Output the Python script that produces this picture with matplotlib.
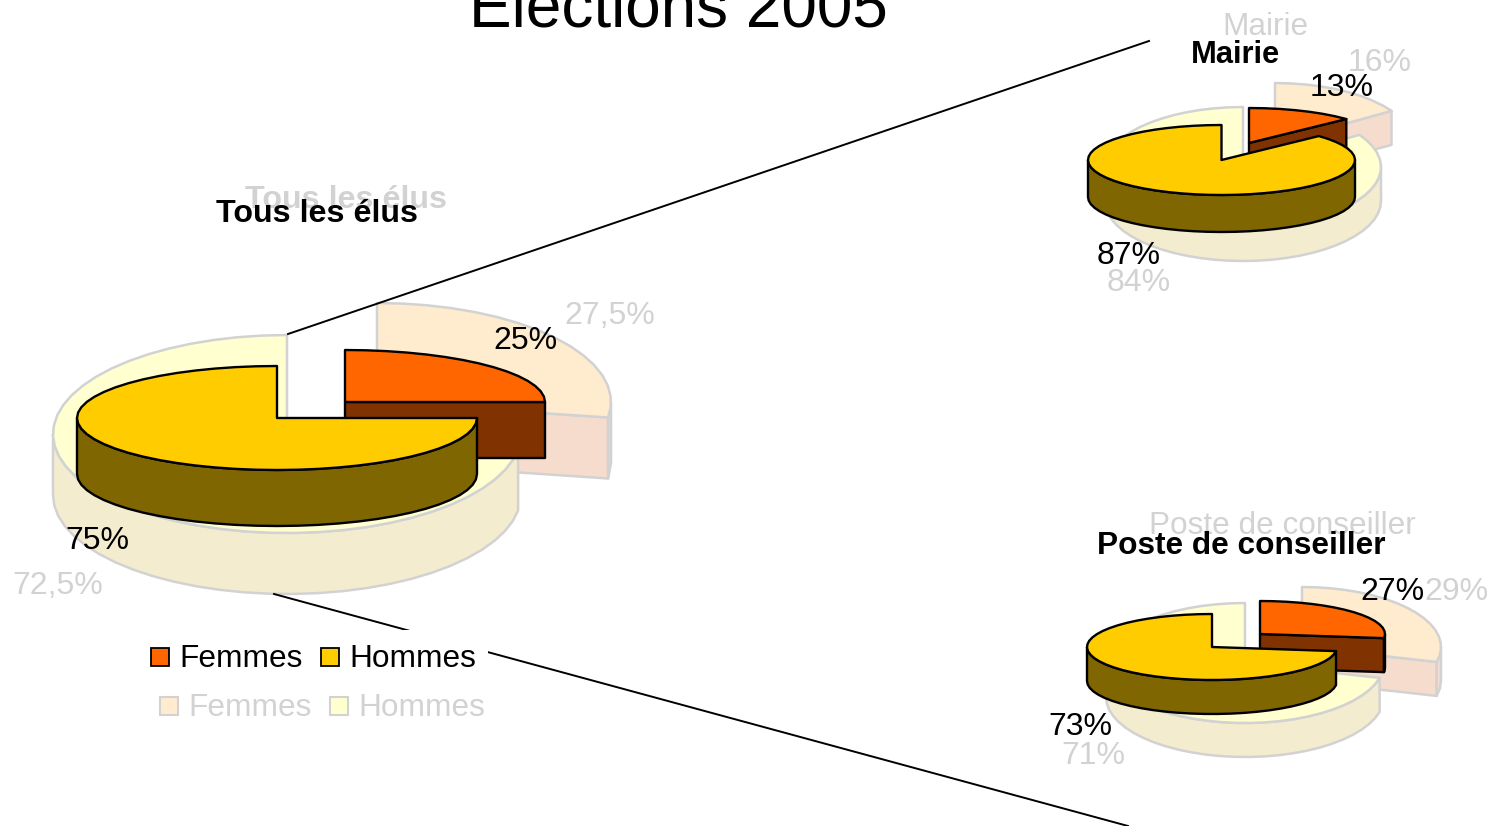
import matplotlib
matplotlib.use("Agg")
import matplotlib.pyplot as plt
import numpy as np
from matplotlib.patches import Polygon, Rectangle

plt.rcParams['font.family'] = ['Liberation Sans', 'DejaVu Sans']

series_names = ["Femmes", "Hommes"]

# values (percent)
tous_front = [25, 75]
tous_back = [27.5, 72.5]
mairie_front = [13, 87]
mairie_back = [16, 84]
poste_front = [27, 73]
poste_back = [29, 71]

tous_front_labels = ["25%", "75%"]
tous_back_labels = ["27,5%", "72,5%"]
mairie_front_labels = ["13%", "87%"]
mairie_back_labels = ["16%", "84%"]
poste_front_labels = ["27%", "73%"]
poste_back_labels = ["29%", "71%"]

title = "Élections 2005"
pie_titles = ["Tous les élus", "Mairie", "Poste de conseiller"]

front_colors = [("#FF6600", "#803300"), ("#FFCC00", "#806600")]
back_colors = [("#FFECCF", "#F5DCCD"), ("#FFFFD0", "#F4ECCE")]
GREY = "#D2D2D2"


def arc(cx, cy, rx, ry, a0, a1, step=6.0):
    # angles in degrees, clockwise from 12 o'clock
    n = max(int(abs(a1 - a0) / step), 1)
    a = np.radians(np.linspace(a0, a1, n + 1))
    return np.column_stack((cx + rx * np.sin(a), cy - ry * np.cos(a)))


def slice3d(ax, cx, cy, rx, ry, depth, a0, a1, colors, edge, lw, z):
    top, side = colors
    kw = dict(edgecolor=edge, linewidth=lw, joinstyle='round', zorder=z)
    # cut face at the end of the slice, only seen when it faces the viewer
    if a1 <= 180 and a1 > 0:
        p = arc(cx, cy, rx, ry, a1, a1)[0]
        face = [(cx, cy), tuple(p), (p[0], p[1] + depth), (cx, cy + depth)]
        ax.add_patch(Polygon(face, closed=True, facecolor=side, **kw))
    # outer wall on the front half
    w0, w1 = max(a0, 90), min(a1, 270)
    if w1 > w0:
        rim = arc(cx, cy, rx, ry, w0, w1)
        low = rim[::-1] + np.array([0, depth])
        ax.add_patch(Polygon(np.vstack((rim, low)), closed=True, facecolor=side, **kw))
    # top
    rim = arc(cx, cy, rx, ry, a0, a1)
    ax.add_patch(Polygon(np.vstack(([(cx, cy)], rim)), closed=True, facecolor=top, **kw))


def pie3d(ax, values, fem_xy, hom_xy, rx, ry, depth, colors, edge, lw, z):
    split = 360 * values[0] / sum(values)
    slice3d(ax, fem_xy[0], fem_xy[1], rx, ry, depth, 0, split, colors[0], edge, lw, z)
    slice3d(ax, hom_xy[0], hom_xy[1], rx, ry, depth, split, 360, colors[1], edge, lw, z + 1)


fig = plt.figure(figsize=(14.89, 8.26), dpi=100)
ax = fig.add_axes([0, 0, 1, 1])
ax.set_xlim(0, 1489)
ax.set_ylim(826, 0)
ax.axis('off')

# faded copy behind
pie3d(ax, tous_back, (377, 402), (287, 434), 234, 99, 61, back_colors, GREY, 1.8, 2)
pie3d(ax, mairie_back, (1275, 143), (1243, 167), 138, 60, 34, back_colors, GREY, 1.8, 2)
pie3d(ax, poste_back, (1302, 647), (1245, 663), 139, 60, 34, back_colors, GREY, 1.8, 2)

# connector lines
ax.plot([288, 1149], [334, 41], color='black', lw=1.4, zorder=4)
ax.plot([274, 1128], [594, 826], color='black', lw=1.4, zorder=4)
ax.add_patch(Rectangle((140, 630), 348, 100, facecolor='white', edgecolor='none', zorder=5))

# front pies
pie3d(ax, tous_front, (345, 402), (277, 418), 200, 52, 56, front_colors, 'black', 1.7, 6)
pie3d(ax, mairie_front, (1249, 143), (1221.5, 160), 133.5, 35, 37, front_colors, 'black', 1.7, 6)
pie3d(ax, poste_front, (1260, 634), (1212, 647), 125, 33, 34, front_colors, 'black', 1.7, 6)

txt = dict(va='baseline', ha='left', zorder=10)
ax.text(469, 28, title, fontsize=46, color='black', **txt)

# faded titles and labels
ax.text(245, 208, pie_titles[0], fontsize=23.2, fontweight='bold', color=GREY, **txt)
ax.text(1222, 35, pie_titles[1], fontsize=22.7, color=GREY, **txt)
ax.text(1149, 534, pie_titles[2], fontsize=22.7, color=GREY, **txt)
ax.text(564, 324, tous_back_labels[0], fontsize=23, color=GREY, **txt)
ax.text(12, 594, tous_back_labels[1], fontsize=23, color=GREY, **txt)
ax.text(1348, 71, mairie_back_labels[0], fontsize=23, color=GREY, **txt)
ax.text(1107, 291, mairie_back_labels[1], fontsize=23, color=GREY, **txt)
ax.text(1424, 600, poste_back_labels[0], fontsize=23, color=GREY, **txt)
ax.text(1061, 764, poste_back_labels[1], fontsize=23, color=GREY, **txt)

# front titles and labels
ax.text(216, 222, pie_titles[0], fontsize=23.2, fontweight='bold', **txt)
ax.text(1191, 63, pie_titles[1], fontsize=22.2, fontweight='bold', **txt)
ax.text(1097, 554, pie_titles[2], fontsize=22.8, fontweight='bold', **txt)
ax.text(493, 349, tous_front_labels[0], fontsize=23, **txt)
ax.text(65, 549, tous_front_labels[1], fontsize=23, **txt)
ax.text(1310, 96, mairie_front_labels[0], fontsize=23, **txt)
ax.text(1097, 264, mairie_front_labels[1], fontsize=23, **txt)
ax.text(1360, 600, poste_front_labels[0], fontsize=23, **txt)
ax.text(1048, 735, poste_front_labels[1], fontsize=23, **txt)

# legends
for i, x in enumerate([151, 321]):
    ax.add_patch(Rectangle((x, 648), 18, 18, facecolor=front_colors[i][0],
                           edgecolor='black', lw=1.3, zorder=8))
    ax.text(x + 28, 667, series_names[i], fontsize=22.8, **txt)
for i, x in enumerate([160, 330]):
    ax.add_patch(Rectangle((x, 697), 18, 18, facecolor=back_colors[i][0],
                           edgecolor=GREY, lw=1.5, zorder=8))
    ax.text(x + 28, 716, series_names[i], fontsize=22.8, color=GREY, **txt)

fig.savefig("out.png", dpi=100)
